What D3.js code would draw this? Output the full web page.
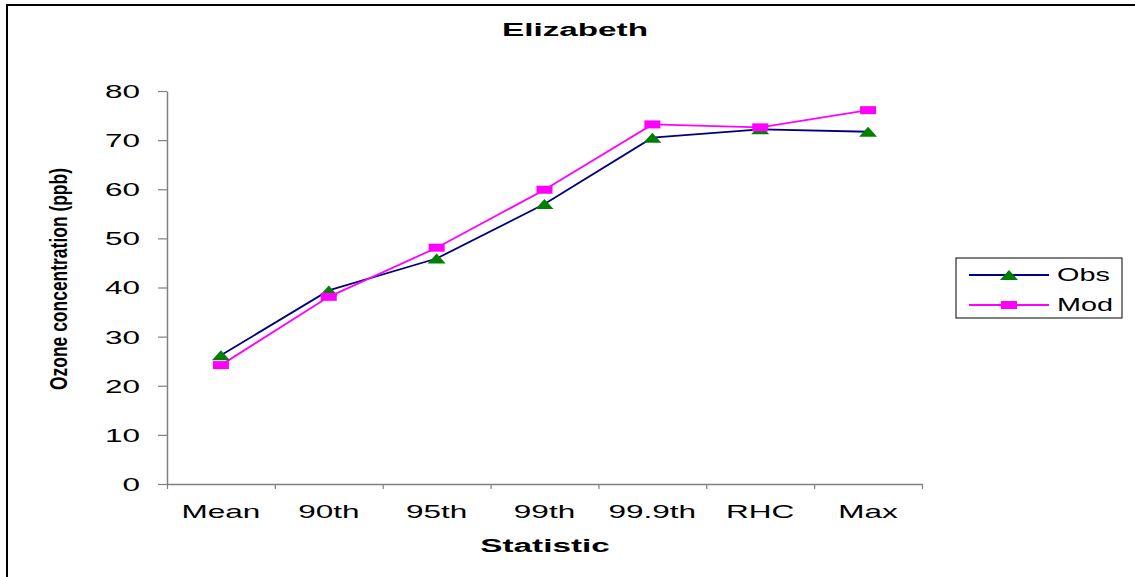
<!DOCTYPE html>
<html>
<head>
<meta charset="utf-8">
<script src="https://cdn.jsdelivr.net/npm/d3@7"></script>
<style>
  html, body { margin: 0; padding: 0; background: #fff; }
  svg { display: block; font-family: "Liberation Sans", Arial, sans-serif; }
</style>
</head>
<body>
<div id="chart"></div>
<script>
'use strict';

// chart data
const categories = ['Mean', '90th', '95th', '99th', '99.9th', 'RHC', 'Max'];
const obsValues = [26.2, 39.4, 45.9, 57.0, 70.5, 72.2, 71.7];
const modValues = [24.2, 38.1, 48.1, 59.9, 73.2, 72.6, 76.1];
const yTicks = [0, 10, 20, 30, 40, 50, 60, 70, 80];
const seriesNames = ['Obs', 'Mod'];

const width = 1135, height = 577;
const plot = { left: 167, right: 922, top: 91, bottom: 484 };
const sx = 1.75; // the original text is stretched sideways

const svg = d3.select('#chart').append('svg')
    .attr('width', width)
    .attr('height', height);

// outer frame (only top and left edges fall inside the picture)
svg.append('path')
    .attr('d', `M7,${height} L7,5 L${width},5`)
    .attr('fill', 'none')
    .attr('stroke', '#000')
    .attr('stroke-width', 2);

const x = d3.scaleBand().domain(categories).range([plot.left, plot.right]).padding(0);
const xEdge = d3.scaleLinear().domain([0, categories.length]).range([plot.left, plot.right]);
const y = d3.scaleLinear().domain([0, 80]).range([plot.bottom, plot.top]);

// y axis
const yAxis = svg.append('g')
    .attr('transform', `translate(${plot.left},0)`)
    .call(d3.axisLeft(y).tickValues(yTicks).tickSize(9).tickSizeOuter(0));
yAxis.select('.domain').attr('stroke', '#808080').attr('stroke-width', 1.5);
yAxis.selectAll('.tick line').attr('stroke', '#808080').attr('stroke-width', 1.2);
yAxis.selectAll('.tick text')
    .attr('x', 0)
    .attr('dy', '0.36em')
    .attr('transform', `translate(-27,0) scale(${sx},1)`)
    .attr('fill', '#000')
    .style('font-size', '18px')
    .style('font-family', '"Liberation Sans", Arial, sans-serif');

// x axis: line with ticks at category edges
const xAxis = svg.append('g')
    .attr('transform', `translate(0,${plot.bottom})`)
    .call(d3.axisBottom(xEdge).tickValues(d3.range(categories.length + 1)).tickFormat('').tickSize(5).tickSizeOuter(0));
xAxis.select('.domain').attr('stroke', '#808080').attr('stroke-width', 1.5);
xAxis.selectAll('.tick line').attr('stroke', '#808080').attr('stroke-width', 1.2);

// x labels centred in each band
const xLabels = svg.append('g')
    .attr('transform', `translate(0,${plot.bottom})`)
    .call(d3.axisBottom(x).tickSize(0));
xLabels.select('.domain').remove();
xLabels.selectAll('.tick text')
    .attr('y', 0)
    .attr('dy', 0)
    .attr('transform', `translate(0,34) scale(${sx},1)`)
    .attr('fill', '#000')
    .style('font-size', '18px')
    .style('font-family', '"Liberation Sans", Arial, sans-serif');

// titles
svg.append('text')
    .attr('transform', `translate(575,36) scale(1.85,1)`)
    .attr('text-anchor', 'middle')
    .style('font-size', '18px')
    .style('font-weight', 'bold')
    .text('Elizabeth');

svg.append('text')
    .attr('transform', `translate(545,552) scale(1.85,1)`)
    .attr('text-anchor', 'middle')
    .style('font-size', '18px')
    .style('font-weight', 'bold')
    .text('Statistic');

// the y title is squeezed tight in the original
svg.append('text')
    .attr('transform', 'translate(67,279) rotate(-90)')
    .attr('text-anchor', 'middle')
    .attr('textLength', 222)
    .attr('lengthAdjust', 'spacingAndGlyphs')
    .style('font-size', '23px')
    .style('font-weight', 'bold')
    .text('Ozone concentration (ppb)');

// series
const line = d3.line()
    .x((d, i) => x(categories[i]) + x.bandwidth() / 2)
    .y(d => y(d));

svg.append('path')
    .datum(obsValues)
    .attr('d', line)
    .attr('fill', 'none')
    .attr('stroke', '#000080')
    .attr('stroke-width', 1.8);

svg.append('path')
    .datum(modValues)
    .attr('d', line)
    .attr('fill', 'none')
    .attr('stroke', '#ff00ff')
    .attr('stroke-width', 1.8);

const triangle = (cx, cy) => `M${cx - 9},${cy + 5} L${cx},${cy - 5} L${cx + 9},${cy + 5} Z`;

svg.append('g').selectAll('path')
    .data(obsValues)
    .join('path')
    .attr('d', (d, i) => triangle(x(categories[i]) + x.bandwidth() / 2, y(d)))
    .attr('fill', '#008000');

svg.append('g').selectAll('rect')
    .data(modValues)
    .join('rect')
    .attr('x', (d, i) => x(categories[i]) + x.bandwidth() / 2 - 8)
    .attr('y', d => y(d) - 4)
    .attr('width', 16)
    .attr('height', 8)
    .attr('fill', '#ff00ff');

// legend
const legend = svg.append('g');
legend.append('rect')
    .attr('x', 956).attr('y', 258)
    .attr('width', 166).attr('height', 60)
    .attr('fill', '#fff')
    .attr('stroke', '#000')
    .attr('stroke-width', 1);

const legendColors = ['#000080', '#ff00ff'];
seriesNames.forEach((name, i) => {
    const ly = 275 + i * 30;
    legend.append('line')
        .attr('x1', 969).attr('x2', 1049)
        .attr('y1', ly).attr('y2', ly)
        .attr('stroke', legendColors[i])
        .attr('stroke-width', 1.8);
    if (i === 0) {
        legend.append('path').attr('d', triangle(1009, ly)).attr('fill', '#008000');
    } else {
        legend.append('rect')
            .attr('x', 1001).attr('y', ly - 4)
            .attr('width', 16).attr('height', 8)
            .attr('fill', '#ff00ff');
    }
    legend.append('text')
        .attr('transform', `translate(1057,${ly + 6}) scale(1.6,1)`)
        .style('font-size', '18px')
        .text(name);
});
</script>
</body>
</html>
